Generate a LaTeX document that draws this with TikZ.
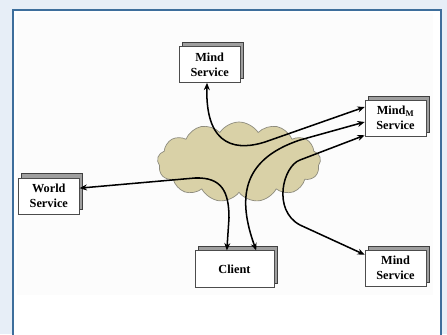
\documentclass[tikz,border=0pt]{standalone}
\usepackage{fontspec}
\setmainfont{Liberation Serif}
\usepackage{tikz}
\usetikzlibrary{arrows.meta,positioning,shapes.symbols,shadows}
\definecolor{pagebg}{HTML}{E7EEF7}
\definecolor{panelblue}{HTML}{3D6E9C}
\definecolor{cloudtan}{HTML}{D9D1A7}
\definecolor{cloudline}{HTML}{8E8C7E}

\begin{document}
\begin{tikzpicture}[
  x=0.03cm, y=-0.03cm,
  box/.style={draw=black!70,fill=white,line width=0.5pt,align=center,
    font=\fontsize{10.5}{12.6}\selectfont\bfseries,
    minimum width=1.83cm,minimum height=1.08cm,inner sep=1pt,
    general shadow={shadow xshift=0.09cm,shadow yshift=0.12cm,
      fill=gray!75,draw=black!75,line width=0.7pt}},
  net/.style={cloud,cloud puffs=13,cloud puff arc=115,aspect=2,
    fill=cloudtan,draw=cloudline,line width=0.6pt,
    minimum width=4.9cm,minimum height=2.4cm,inner sep=0pt},
  link/.style={line width=1.3pt,{Stealth[length=2.2mm,width=1.8mm]}-{Stealth[length=2.2mm,width=1.8mm]}}
]
  \useasboundingbox (0,0) rectangle (447,334);
  \fill[pagebg] (0,0) rectangle (447,334);
  \fill[white] (13,10) rectangle (441,340);
  \fill[black!1] (17,13) rectangle (433,295);
  \draw[panelblue,line width=1.3pt] (13,340) -- (13,10) -- (441,10) -- (441,340);

  \node[net] (cloud) at (239,162) {};
  \node[box] (mt) at (209.7,64.5) {Mind\\Service};
  \node[box] (mm) at (395.5,118) {Mind\textsubscript{M}\\Service};
  \node[box] (ws) at (48.8,195.8) {World\\Service};
  \node[box,minimum width=2.37cm,minimum height=1.1cm] (cl) at (234.5,269) {Client};
  \node[box] (mb) at (395.5,268) {Mind\\Service};

  \draw[link] ([xshift=-0.08cm]mt.south) .. controls (205,150) and (240,150) .. (265,142) -- ([yshift=0.33cm]mm.west);
  \draw[link] ([xshift=0.65cm]cl.north) .. controls (238,200) and (240,160) .. (300,140) -- ([yshift=-0.12cm]mm.west);
  \draw[link] ([yshift=-0.15cm]mb.north west) -- (300,225) .. controls (272,210) and (283,166) .. (300,160) -- ([yshift=0.03cm]mm.south west);
  \draw[link] ([yshift=0.23cm]ws.east) -- (195,178) .. controls (222,177) and (229,192) .. (229,218) -- ([xshift=-0.23cm]cl.north);
\end{tikzpicture}
\end{document}
